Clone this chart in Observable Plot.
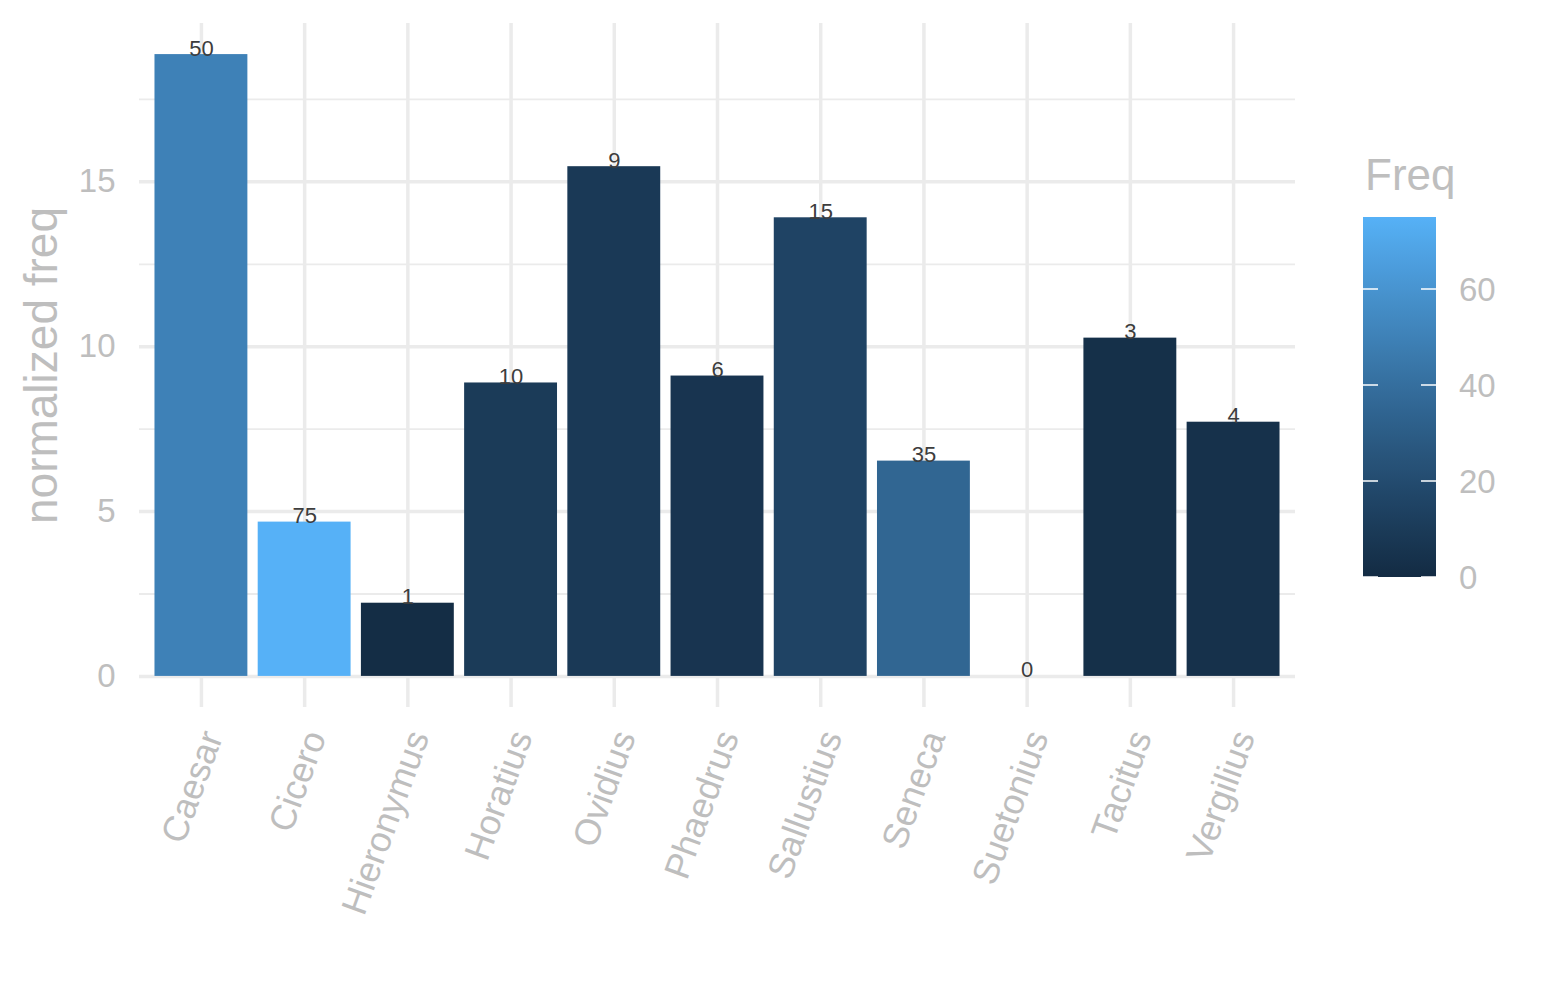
<!DOCTYPE html>
<html><head><meta charset="utf-8">
<script src="https://cdn.jsdelivr.net/npm/d3@7"></script>
<script src="https://cdn.jsdelivr.net/npm/@observablehq/plot@0.6"></script>
<style>body{margin:0;background:#fff} svg{display:block}</style>
</head><body><div id="chart"></div>
<script>
const authors = ["Caesar","Cicero","Hieronymus","Horatius","Ovidius","Phaedrus","Sallustius","Seneca","Suetonius","Tacitus","Vergilius"];
const normFreq = [18.86,4.68,2.22,8.90,15.46,9.11,13.91,6.53,0,10.26,7.71];
const freq = [50,75,1,10,9,6,15,35,0,3,4];
const yTicks = [0,5,10,15];
const yMinorTicks = [2.5,7.5,12.5,17.5];
const legendTicks = [0,20,40,60];
const legendTitle = "Freq";
const yTitle = "normalized freq";

const data = authors.map((a,i)=>({author:a, value:normFreq[i], freq:freq[i]}));
const ymax = d3.max(normFreq); const pad = ymax*0.05;
const font = "'Liberation Sans', Arial, Helvetica, sans-serif";
const textGrey = "#BEBEBE";
const grid = "#EBEBEB";
const colorOpts = {type:"linear", domain:d3.extent(freq), range:["#132B43","#56B1F7"], interpolate:"lab"};

const chart = Plot.plot({
  width:1545, height:1000, marginTop:23, marginBottom:293, marginLeft:139, marginRight:250,
  style:{fontFamily:font, background:"#fff"},
  x:{domain:authors, paddingInner:0.1, paddingOuter:0.15, round:false},
  y:{domain:[-pad, ymax+pad]},
  color:colorOpts,
  marks:[
    Plot.gridY(yMinorTicks,{stroke:grid, strokeOpacity:1, strokeWidth:1.8}),
    Plot.gridY(yTicks,{stroke:grid, strokeOpacity:1, strokeWidth:3.5}),
    Plot.gridX({stroke:grid, strokeOpacity:1, strokeWidth:3.5}),
    Plot.barY(data,{x:"author", y:"value", fill:"freq"}),
    Plot.text(data,{x:"author", y:"value", text:"freq", lineAnchor:"bottom", dy:1, fontSize:22, fill:"#3D3D3D"}),
    Plot.axisY(yTicks,{tickSize:0, tickPadding:24, fontSize:33, fill:textGrey, label:null}),
    Plot.axisX({tickRotate:-70, tickSize:0, tickPadding:25, dx:11, fontSize:36, fill:textGrey, label:null}),
    Plot.text([yTitle],{frameAnchor:"left", textAnchor:"middle", rotate:-90, dx:-83, lineAnchor:"bottom", fontSize:46, fill:textGrey})
  ]
});
document.getElementById("chart").appendChild(chart);

// colorbar legend
const cscale = Plot.scale({color:colorOpts});
const svg = d3.select(chart);
const [c0,c1] = colorOpts.domain;
const ly = d3.scaleLinear().domain([c0,c1]).range([577,217]);
const grad = svg.append("defs").append("linearGradient").attr("id","cbar")
  .attr("x1",0).attr("y1",1).attr("x2",0).attr("y2",0);
d3.range(0,1.0001,0.05).forEach(t=>{
  grad.append("stop").attr("offset",t).attr("stop-color",cscale.apply(c0+t*(c1-c0)));
});
const lx = 1363, lw = 73;
const lg = svg.append("g").attr("font-family",font).attr("text-anchor","start");
lg.append("rect").attr("x",lx).attr("y",ly(c1)).attr("width",lw).attr("height",ly(c0)-ly(c1)).attr("fill","url(#cbar)");
legendTicks.forEach(t=>{
  lg.append("line").attr("x1",lx).attr("x2",lx+15).attr("y1",ly(t)).attr("y2",ly(t)).attr("stroke","#fff").attr("stroke-width",1.5);
  lg.append("line").attr("x1",lx+lw-15).attr("x2",lx+lw).attr("y1",ly(t)).attr("y2",ly(t)).attr("stroke","#fff").attr("stroke-width",1.5);
  lg.append("text").attr("x",1459).attr("y",ly(t)).attr("dy","0.35em").attr("font-size",33).attr("fill",textGrey).text(t);
});
lg.append("text").attr("x",1365).attr("y",190).attr("font-size",44).attr("fill",textGrey).text(legendTitle);
</script>
</body></html>
